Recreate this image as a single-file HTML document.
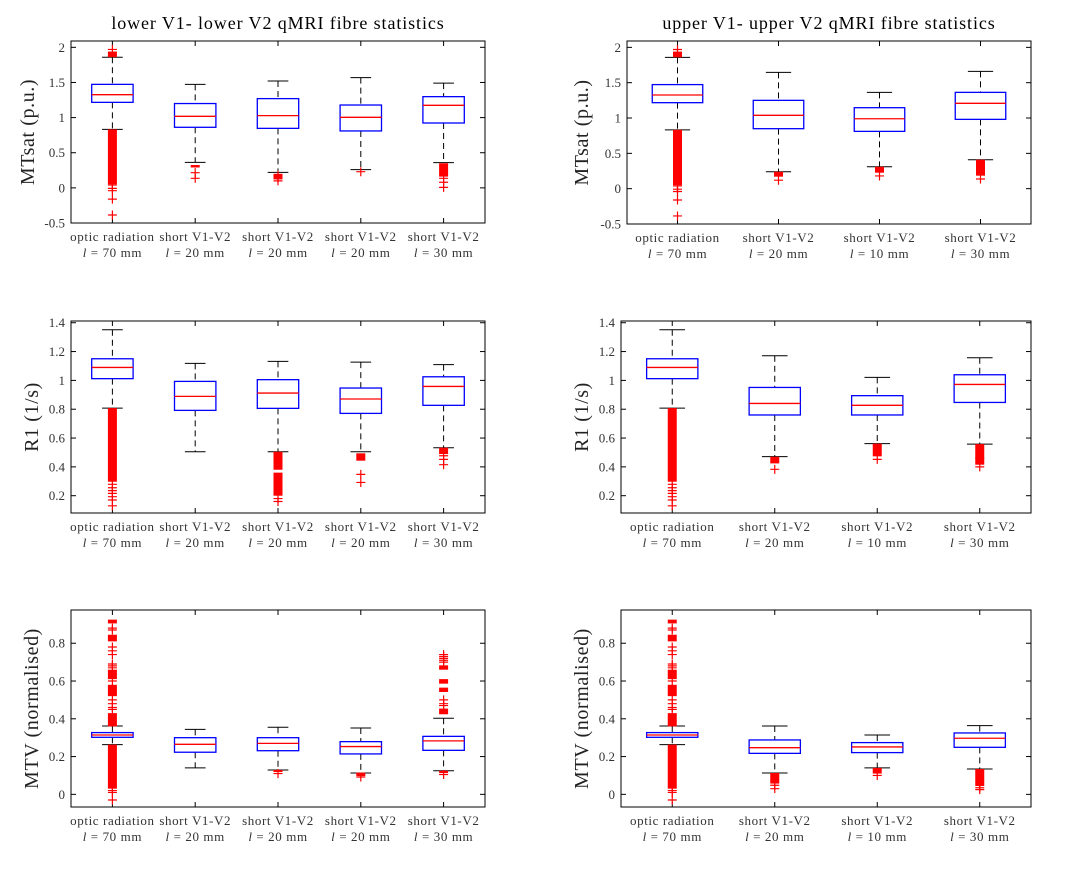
<!DOCTYPE html>
<html><head><meta charset="utf-8"><style>
body{margin:0;background:#fff}
svg{display:block;font-family:"Liberation Serif",serif}
</style></head><body>
<svg id="fig" width="1066" height="874" viewBox="0 0 1066 874"></svg>
<script>
// ---------- data ----------
const catsLower = [["optic radiation","70"],["short V1-V2","20"],["short V1-V2","20"],["short V1-V2","20"],["short V1-V2","30"]];
const catsUpper = [["optic radiation","70"],["short V1-V2","20"],["short V1-V2","10"],["short V1-V2","30"]];

// MTsat lower
const mtL_hi=[1.858,1.473,1.521,1.568,1.49], mtL_q3=[1.473,1.2,1.27,1.179,1.298], mtL_med=[1.326,1.018,1.028,1.004,1.175], mtL_q1=[1.217,0.862,0.847,0.81,0.923], mtL_lo=[0.833,0.363,0.221,0.259,0.359];
const mtL_blk=[[[1.86,1.94],[0.05,0.833]],[[0.29,0.325]],[[0.12,0.2]],[],[[0.16,0.35]]];
const mtL_pts=[[1.97,0.04,-0.007,-0.04,-0.16,-0.386],[0.216,0.136],[0.18,0.14,0.1],[0.23],[0.136,0.08,0.007]];
// MTsat upper
const mtU_hi=[1.858,1.646,1.363,1.66], mtU_q3=[1.473,1.25,1.146,1.363], mtU_med=[1.326,1.038,0.99,1.208], mtU_q1=[1.217,0.849,0.811,0.981], mtU_lo=[0.833,0.24,0.311,0.41];
const mtU_blk=[[[1.86,1.94],[0.05,0.833]],[[0.17,0.24]],[[0.226,0.31]],[[0.184,0.41]]];
const mtU_pts=[[1.97,0.04,-0.007,-0.04,-0.16,-0.386],[0.12],[0.18],[0.137]];
// R1 lower
const r1L_hi=[1.351,1.118,1.132,1.127,1.109], r1L_q3=[1.15,0.993,1.005,0.947,1.025], r1L_med=[1.09,0.889,0.912,0.871,0.958], r1L_q1=[1.012,0.792,0.806,0.771,0.827], r1L_lo=[0.808,0.505,0.505,0.505,0.533];
const r1L_blk=[[[0.297,0.808]],[],[[0.38,0.505],[0.2,0.36]],[[0.443,0.494]],[[0.489,0.533]]];
const r1L_pts=[[0.279,0.255,0.235,0.216,0.193,0.17,0.13],[],[0.18,0.16],[0.348,0.292],[0.477,0.452,0.415]];
// R1 upper
const r1U_hi=[1.351,1.171,1.021,1.157], r1U_q3=[1.15,0.951,0.894,1.039], r1U_med=[1.09,0.84,0.827,0.972], r1U_q1=[1.012,0.76,0.76,0.847], r1U_lo=[0.808,0.471,0.561,0.558];
const r1U_blk=[[[0.297,0.808]],[[0.424,0.47]],[[0.473,0.561]],[[0.415,0.558]]];
const r1U_pts=[[0.279,0.255,0.235,0.216,0.193,0.17,0.13],[0.383],[0.452],[0.46,0.4]];
// MTV lower
const mvL_hi=[0.362,0.344,0.355,0.351,0.403], mvL_q3=[0.327,0.3,0.3,0.279,0.307], mvL_med=[0.314,0.265,0.27,0.253,0.283], mvL_q1=[0.302,0.223,0.231,0.214,0.233], mvL_lo=[0.263,0.14,0.129,0.113,0.125];
const mvL_blk=[[[0.905,0.925],[0.81,0.845],[0.61,0.66],[0.52,0.58],[0.36,0.43],[0.03,0.263]],[],[[0.118,0.129]],[[0.097,0.115]],[[0.424,0.454],[0.542,0.565],[0.586,0.61],[0.66,0.683],[0.113,0.125]]];
const mvL_pts=[[0.88,0.87,0.78,0.76,0.74,0.69,0.68,0.67,0.6,0.5,0.48,0.46,0.45,0.02,0.01,-0.03],[],[0.11],[0.092],[0.74,0.73,0.72,0.71,0.7,0.5,0.48,0.47,0.105]];
// MTV upper
const mvU_hi=[0.362,0.362,0.314,0.364], mvU_q3=[0.327,0.288,0.274,0.325], mvU_med=[0.314,0.247,0.251,0.297], mvU_q1=[0.302,0.217,0.221,0.249], mvU_lo=[0.263,0.113,0.14,0.134];
const mvU_blk=[[[0.905,0.925],[0.81,0.845],[0.61,0.66],[0.52,0.58],[0.36,0.43],[0.03,0.263]],[[0.057,0.113]],[[0.11,0.14]],[[0.044,0.134]]];
const mvU_pts=[[0.88,0.87,0.78,0.76,0.74,0.69,0.68,0.67,0.6,0.5,0.48,0.46,0.45,0.02,0.01,-0.03],[0.048,0.03],[0.1],[0.035,0.025]];

const ticksMT=[-0.5,0,0.5,1,1.5,2], ticksMTlab=["-0.5","0","0.5","1","1.5","2"];
const ticksR1=[0.2,0.4,0.6,0.8,1,1.2,1.4], ticksR1lab=["0.2","0.4","0.6","0.8","1","1.2","1.4"];
const ticksMV=[0,0.2,0.4,0.6,0.8], ticksMVlab=["0","0.2","0.4","0.6","0.8"];

// ---------- drawing ----------
const NS="http://www.w3.org/2000/svg";
const svg=document.getElementById('fig');
function mk(tag,attrs,parent){const e=document.createElementNS(NS,tag);for(const k in attrs)e.setAttribute(k,attrs[k]);(parent||svg).appendChild(e);return e;}

function panel(name,box,ylim,ticks,tlabs,ylabel,ylabX,title,cats,hi,q3,med,q1,lo,blk,pts){
  const g=mk('g',{});
  
  
  const [x0,x1,y0,y1]=box, n=cats.length, u=(x1-x0)/n;
  const X=i=>x0+u*(i+0.5);
  const Y=v=>y1-(v-ylim[0])/(ylim[1]-ylim[0])*(y1-y0);
  if(title){const t=mk('text',{x:(x0+x1)/2,y:y0-12,'text-anchor':'middle','font-size':18,'letter-spacing':0.9,fill:'#000'},g);t.textContent=title;
    }
  const yl=mk('text',{x:ylabX,y:(y0+y1)/2,'text-anchor':'middle','font-size':20,'letter-spacing':0.6,fill:'#222',transform:`rotate(-90 ${ylabX} ${(y0+y1)/2})`},g);
  yl.textContent=ylabel;
  
  ticks.forEach((v,i)=>{const y=Y(v);
    mk('line',{x1:x0,x2:x0+5,y1:y,y2:y,stroke:'#000','stroke-width':1},g);
    mk('line',{x1:x1,x2:x1-5,y1:y,y2:y,stroke:'#000','stroke-width':1},g);
    const t=mk('text',{x:x0-6,y:y+4.5,'text-anchor':'end','font-size':13,fill:'#333'},g);t.textContent=tlabs[i];
    });
  cats.forEach((c,i)=>{const x=X(i);
    mk('line',{x1:x,x2:x,y1:y1,y2:y1-5,stroke:'#000'},g);mk('line',{x1:x,x2:x,y1:y0,y2:y0+5,stroke:'#000'},g);
    const t=mk('text',{x:x,y:y1+18,'text-anchor':'middle','font-size':13,'letter-spacing':0.6,fill:'#333'},g);t.textContent=c[0];
    
    const t2=mk('text',{x:x,y:y1+34,'text-anchor':'middle','font-size':13,'letter-spacing':0.6,fill:'#333'},g);
    t2.innerHTML='<tspan font-style="italic">l</tspan> = '+c[1]+' mm';
    
    const bg=mk('g',{},g);
    
    
    const hw=u*0.25, cw=u*0.125;
    mk('line',{x1:x,x2:x,y1:Y(hi[i]),y2:Y(q3[i]),stroke:'#000','stroke-dasharray':'6,4'},bg);
    mk('line',{x1:x,x2:x,y1:Y(q1[i]),y2:Y(lo[i]),stroke:'#000','stroke-dasharray':'6,4'},bg);
    mk('line',{x1:x-cw,x2:x+cw,y1:Y(hi[i]),y2:Y(hi[i]),stroke:'#000'},bg);
    mk('line',{x1:x-cw,x2:x+cw,y1:Y(lo[i]),y2:Y(lo[i]),stroke:'#000'},bg);
    mk('rect',{x:x-hw,y:Y(q3[i]),width:2*hw,height:Y(q1[i])-Y(q3[i]),fill:'none',stroke:'#00f','stroke-width':1.3},bg);
    mk('line',{x1:x-hw,x2:x+hw,y1:Y(med[i]),y2:Y(med[i]),stroke:'#f00','stroke-width':1.3},bg);
    blk[i].forEach(b=>{const r=mk('rect',{x:x-4.5,y:Y(b[1]),width:9,height:Math.max(2,Y(b[0])-Y(b[1])),fill:'#f00'},bg);
      });
    pts[i].forEach(v=>{const y=Y(v);
      const p=mk('path',{d:`M${x-4.5},${y}H${x+4.5}M${x},${y-4.5}V${y+4.5}`,stroke:'#f00','stroke-width':1.2},bg);
      });
  });
  mk('rect',{x:x0,y:y0,width:x1-x0,height:y1-y0,fill:'none',stroke:'#000','stroke-width':1},g);
}
panel('mtsat-lower-panel',[71,485,41,223],[-0.5,2.09],ticksMT,ticksMTlab,'MTsat (p.u.)',34,'lower V1- lower V2 qMRI fibre statistics',catsLower,mtL_hi,mtL_q3,mtL_med,mtL_q1,mtL_lo,mtL_blk,mtL_pts);
panel('mtsat-upper-panel',[627,1031,41,224],[-0.5,2.09],ticksMT,ticksMTlab,'MTsat (p.u.)',588,'upper V1- upper V2 qMRI fibre statistics',catsUpper,mtU_hi,mtU_q3,mtU_med,mtU_q1,mtU_lo,mtU_blk,mtU_pts);
panel('r1-lower-panel',[71,485,321,513],[0.08,1.412],ticksR1,ticksR1lab,'R1 (1/s)',38,null,catsLower,r1L_hi,r1L_q3,r1L_med,r1L_q1,r1L_lo,r1L_blk,r1L_pts);
panel('r1-upper-panel',[621,1031,321,513],[0.08,1.412],ticksR1,ticksR1lab,'R1 (1/s)',588,null,catsUpper,r1U_hi,r1U_q3,r1U_med,r1U_q1,r1U_lo,r1U_blk,r1U_pts);
panel('mtv-lower-panel',[71,485,610,807],[-0.067,0.976],ticksMV,ticksMVlab,'MTV (normalised)',38,null,catsLower,mvL_hi,mvL_q3,mvL_med,mvL_q1,mvL_lo,mvL_blk,mvL_pts);
panel('mtv-upper-panel',[621,1031,610,807],[-0.067,0.976],ticksMV,ticksMVlab,'MTV (normalised)',588,null,catsUpper,mvU_hi,mvU_q3,mvU_med,mvU_q1,mvU_lo,mvU_blk,mvU_pts);
</script>
</body></html>
